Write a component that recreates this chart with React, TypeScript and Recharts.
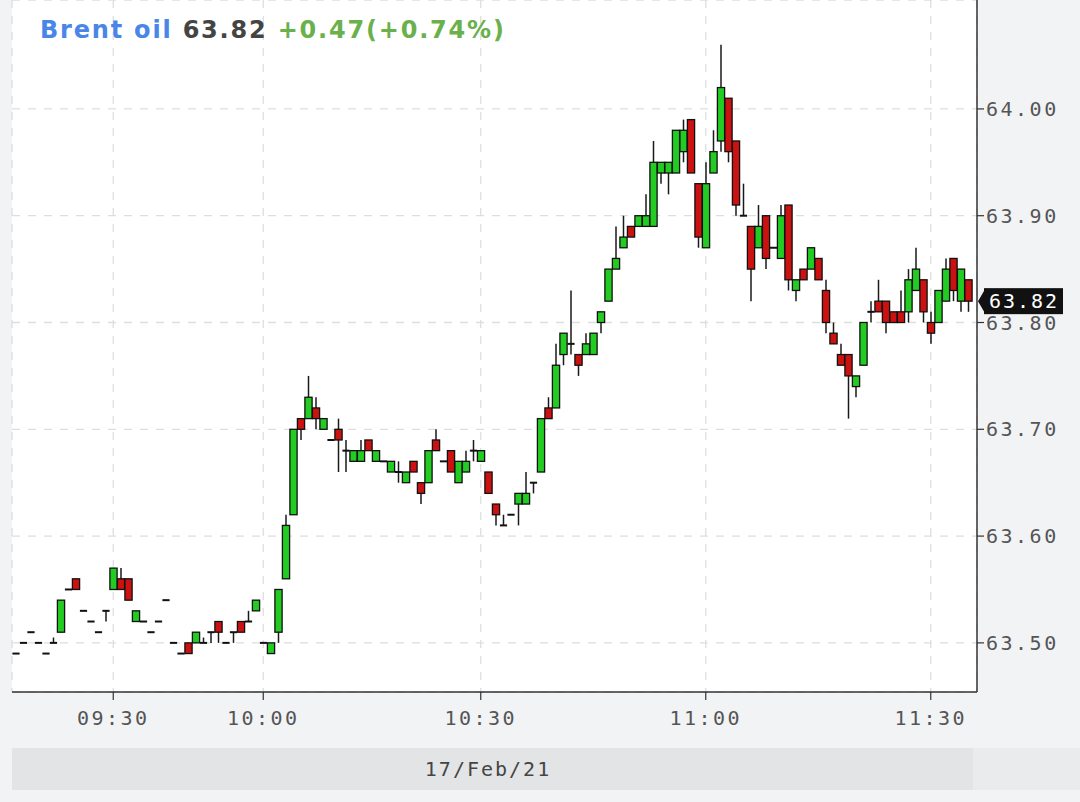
import React from 'react';
import { ComposedChart, Bar, XAxis, YAxis, CartesianGrid, ReferenceLine } from 'recharts';

// ---- data (1-minute candles, Brent oil, 17/Feb/21) ----
const opens = [
  63.49, 63.50, 63.51, 63.50, 63.49, 63.50, 63.51, 63.55, 63.56, 63.53,
  63.52, 63.51, 63.53, 63.55, 63.56, 63.56, 63.52, 63.52, 63.51, 63.52,
  63.54, 63.50, 63.49, 63.50, 63.50, 63.50, 63.51, 63.52, 63.50, 63.51,
  63.52, 63.52, 63.53, 63.50, 63.49, 63.51, 63.56, 63.62, 63.71, 63.71,
  63.72, 63.70, 63.69, 63.70, 63.68, 63.67, 63.67, 63.69, 63.67, 63.67,
  63.66, 63.66, 63.65, 63.67, 63.65, 63.65, 63.69, 63.67, 63.68, 63.65,
  63.66, 63.68, 63.67, 63.66, 63.63, 63.61, 63.62, 63.63, 63.63, 63.65,
  63.66, 63.72, 63.72, 63.77, 63.78, 63.77, 63.77, 63.77, 63.80, 63.82,
  63.85, 63.87, 63.89, 63.89, 63.89, 63.89, 63.94, 63.94, 63.94, 63.96,
  63.99, 63.93, 63.87, 63.94, 63.97, 64.01, 63.97, 63.90, 63.89, 63.87,
  63.90, 63.87, 63.86, 63.91, 63.83, 63.85, 63.85, 63.86, 63.83, 63.79,
  63.77, 63.77, 63.74, 63.76, 63.81, 63.82, 63.82, 63.81, 63.81, 63.81,
  63.83, 63.84, 63.80, 63.80, 63.82, 63.86, 63.82, 63.84,
];
const highs = [
  63.49, 63.50, 63.51, 63.50, 63.49, 63.505, 63.54, 63.55, 63.56, 63.53,
  63.52, 63.51, 63.53, 63.57, 63.57, 63.56, 63.53, 63.52, 63.51, 63.52,
  63.54, 63.50, 63.49, 63.50, 63.51, 63.505, 63.51, 63.52, 63.50, 63.51,
  63.52, 63.53, 63.54, 63.50, 63.50, 63.55, 63.62, 63.70, 63.71, 63.75,
  63.73, 63.71, 63.69, 63.71, 63.69, 63.68, 63.69, 63.69, 63.68, 63.67,
  63.67, 63.67, 63.66, 63.67, 63.65, 63.68, 63.70, 63.67, 63.68, 63.67,
  63.68, 63.69, 63.68, 63.66, 63.63, 63.62, 63.62, 63.64, 63.66, 63.65,
  63.71, 63.73, 63.78, 63.79, 63.83, 63.77, 63.79, 63.79, 63.81, 63.85,
  63.89, 63.90, 63.89, 63.90, 63.92, 63.97, 63.95, 63.95, 63.98, 63.99,
  63.99, 63.93, 63.95, 63.98, 64.06, 64.01, 63.97, 63.93, 63.89, 63.91,
  63.90, 63.87, 63.91, 63.91, 63.84, 63.85, 63.87, 63.86, 63.84, 63.80,
  63.78, 63.77, 63.75, 63.80, 63.82, 63.84, 63.82, 63.81, 63.83, 63.85,
  63.87, 63.84, 63.81, 63.83, 63.86, 63.86, 63.85, 63.84,
];
const lows = [
  63.49, 63.50, 63.51, 63.50, 63.49, 63.50, 63.51, 63.55, 63.55, 63.53,
  63.52, 63.51, 63.52, 63.55, 63.55, 63.54, 63.52, 63.52, 63.51, 63.52,
  63.54, 63.50, 63.49, 63.49, 63.50, 63.50, 63.50, 63.50, 63.50, 63.50,
  63.51, 63.52, 63.53, 63.50, 63.49, 63.50, 63.56, 63.62, 63.69, 63.71,
  63.70, 63.70, 63.69, 63.66, 63.66, 63.67, 63.67, 63.68, 63.67, 63.67,
  63.66, 63.65, 63.65, 63.66, 63.63, 63.65, 63.68, 63.67, 63.66, 63.65,
  63.66, 63.67, 63.67, 63.64, 63.61, 63.61, 63.62, 63.61, 63.63, 63.64,
  63.66, 63.71, 63.72, 63.76, 63.77, 63.75, 63.77, 63.77, 63.79, 63.82,
  63.85, 63.87, 63.88, 63.89, 63.89, 63.89, 63.93, 63.92, 63.94, 63.95,
  63.94, 63.87, 63.87, 63.94, 63.96, 63.95, 63.90, 63.90, 63.82, 63.87,
  63.85, 63.87, 63.86, 63.83, 63.82, 63.84, 63.85, 63.84, 63.79, 63.78,
  63.76, 63.71, 63.73, 63.76, 63.80, 63.81, 63.79, 63.80, 63.80, 63.80,
  63.83, 63.80, 63.78, 63.80, 63.82, 63.82, 63.81, 63.81,
];
const closes = [
  63.49, 63.50, 63.51, 63.50, 63.49, 63.50, 63.54, 63.55, 63.55, 63.53,
  63.52, 63.51, 63.53, 63.57, 63.55, 63.54, 63.53, 63.52, 63.51, 63.52,
  63.54, 63.50, 63.49, 63.49, 63.51, 63.50, 63.51, 63.51, 63.50, 63.51,
  63.51, 63.52, 63.54, 63.50, 63.50, 63.55, 63.61, 63.70, 63.70, 63.73,
  63.71, 63.71, 63.69, 63.69, 63.68, 63.68, 63.68, 63.68, 63.68, 63.67,
  63.67, 63.66, 63.66, 63.66, 63.64, 63.68, 63.68, 63.67, 63.66, 63.67,
  63.67, 63.68, 63.68, 63.64, 63.62, 63.61, 63.62, 63.64, 63.64, 63.65,
  63.71, 63.71, 63.76, 63.79, 63.78, 63.76, 63.78, 63.79, 63.81, 63.85,
  63.86, 63.88, 63.88, 63.90, 63.90, 63.95, 63.95, 63.95, 63.98, 63.98,
  63.94, 63.88, 63.93, 63.96, 64.02, 63.96, 63.91, 63.90, 63.85, 63.89,
  63.86, 63.87, 63.90, 63.84, 63.84, 63.84, 63.87, 63.84, 63.80, 63.78,
  63.76, 63.75, 63.75, 63.80, 63.81, 63.81, 63.80, 63.80, 63.80, 63.84,
  63.85, 63.81, 63.79, 63.83, 63.85, 63.83, 63.85, 63.82,
];

const timeTickIndex = [13, 33, 62, 92, 122];
const timeTickLabels = ['09:30', '10:00', '10:30', '11:00', '11:30'];
const priceTicks = [63.5, 63.6, 63.7, 63.8, 63.9, 64.0];
const priceDomain = [63.454, 64.102];
const dateLabel = '17/Feb/21';
const instrumentName = 'Brent oil';
const lastPrice = 63.82;
const changeText = '+0.47(+0.74%)';

const data = opens.map((o, i) => ({
  i,
  o,
  h: highs[i],
  l: lows[i],
  c: closes[i],
  range: [lows[i], highs[i]],
}));

const GREEN = '#22cc22';
const RED = '#cc1111';
const MONO = "'DejaVu Sans Mono', monospace";

const Candle = (props: any) => {
  const { x, y, width, height, payload } = props;
  if (x == null || y == null || !payload) return null;
  const { o, h, l, c } = payload;
  const top = Math.min(y, y + (height || 0));
  const hpx = Math.abs(height || 0);
  const ppu = h > l ? hpx / (h - l) : 0;
  const cx = x + width / 2;
  const bTop = top + (h - Math.max(o, c)) * ppu;
  const bBot = top + (h - Math.min(o, c)) * ppu;
  const up = c > o;
  const flat = bBot - bTop < 1.5;
  const bx = x + 0.4;
  const bw = Math.max(1, width - 0.8);
  return (
    <g>
      {hpx > 0 && (
        <line x1={cx} x2={cx} y1={top} y2={top + hpx} stroke="#1a1a1a" strokeWidth={1.5} />
      )}
      {flat ? (
        <line x1={bx} x2={bx + bw} y1={bTop} y2={bTop} stroke="#111" strokeWidth={2} />
      ) : (
        <rect
          x={bx}
          y={bTop}
          width={bw}
          height={bBot - bTop}
          fill={up ? GREEN : RED}
          stroke="#111"
          strokeWidth={1.3}
        />
      )}
    </g>
  );
};

const PriceTag = (props: any) => {
  const vb = props.viewBox || {};
  const right = (vb.x || 0) + (vb.width || 0);
  const cy = vb.y || 0;
  const left = right + 7;
  return (
    <g>
      <polygon
        points={`${right + 1},${cy} ${left + 1},${cy - 12} ${left + 1},${cy + 12}`}
        fill="#111"
      />
      <rect x={left} y={cy - 13} width={79} height={26} fill="#111" />
      <text
        x={left + 40}
        y={cy}
        dy="0.36em"
        textAnchor="middle"
        fill="#fff"
        fontFamily={MONO}
        fontSize={20}
        letterSpacing={2}
      >
        {lastPrice.toFixed(2)}
      </text>
    </g>
  );
};

export default function App() {
  return (
    <div
      style={{
        position: 'absolute',
        left: 0,
        top: 0,
        width: 1080,
        height: 802,
        background: '#f2f3f5',
        overflow: 'hidden',
      }}
    >
      <ComposedChart
        width={1080}
        height={802}
        data={data}
        margin={{ top: 0, right: 0, bottom: 70, left: 12 }}
        barCategoryGap={0}
      >
        <CartesianGrid
          xAxisId="x"
          yAxisId="right"
          fill="#ffffff"
          stroke="#dedede"
          strokeDasharray="8 8"
          strokeWidth={1.3}
        />
        <XAxis
          xAxisId="x"
          dataKey="i"
          type="category"
          ticks={timeTickIndex}
          interval={0}
          tickFormatter={(v: number) => timeTickLabels[timeTickIndex.indexOf(v)]}
          height={40}
          padding={{ left: 0, right: 5 }}
          axisLine={{ stroke: '#333', strokeWidth: 1.5 }}
          tickLine={{ stroke: '#333', strokeWidth: 1.2 }}
          tickSize={8}
          tickMargin={11}
          tick={{ fill: '#555', fontSize: 20, fontFamily: MONO, letterSpacing: 2.5 }}
        />
        <YAxis
          yAxisId="left"
          orientation="left"
          width={0}
          domain={priceDomain}
          allowDataOverflow
          tick={false}
          tickLine={false}
          axisLine={{ stroke: '#333', strokeWidth: 1.5 }}
        />
        <YAxis
          yAxisId="right"
          orientation="right"
          width={103}
          domain={priceDomain}
          allowDataOverflow
          ticks={priceTicks}
          interval={0}
          tickFormatter={(v: number) => v.toFixed(2)}
          axisLine={{ stroke: '#333', strokeWidth: 1.5 }}
          tickLine={{ stroke: '#333', strokeWidth: 1.2 }}
          tickSize={7}
          tickMargin={2}
          tick={{ fill: '#555', fontSize: 20, fontFamily: MONO, letterSpacing: 2.5 }}
        />
        <Bar
          xAxisId="x"
          yAxisId="right"
          dataKey="range"
          shape={<Candle />}
          isAnimationActive={false}
        />
        <ReferenceLine
          xAxisId="x"
          yAxisId="right"
          y={lastPrice}
          stroke="none"
          ifOverflow="visible"
          label={<PriceTag />}
        />
      </ComposedChart>

      <div
        style={{
          position: 'absolute',
          left: 40,
          top: 14,
          fontFamily: "'DejaVu Sans', sans-serif",
          fontWeight: 'bold',
          fontSize: 24,
          letterSpacing: 1.8,
          whiteSpace: 'nowrap',
          lineHeight: '32px',
        }}
      >
        <span style={{ color: '#4a86e8' }}>{instrumentName}</span>{' '}
        <span style={{ color: '#444' }}>{lastPrice.toFixed(2)}</span>{' '}
        <span style={{ color: '#6ab04c' }}>{changeText}</span>
      </div>

      <div
        style={{
          position: 'absolute',
          left: 12,
          top: 748,
          width: 961,
          height: 42,
          background: '#e3e4e6',
        }}
      />
      <div
        style={{
          position: 'absolute',
          left: 973,
          top: 748,
          width: 107,
          height: 42,
          background: '#eaebed',
        }}
      />
      <div
        style={{
          position: 'absolute',
          left: 12,
          top: 748,
          width: 952,
          height: 42,
          lineHeight: '42px',
          textAlign: 'center',
          fontFamily: MONO,
          fontSize: 20,
          letterSpacing: 2,
          color: '#444',
        }}
      >
        {dateLabel}
      </div>
    </div>
  );
}
